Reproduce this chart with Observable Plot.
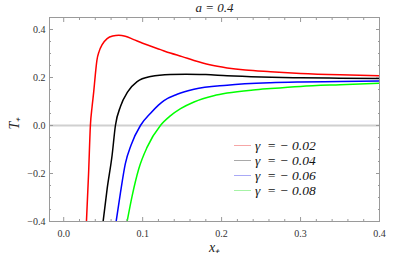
<!DOCTYPE html>
<html><head><meta charset="utf-8">
<script src="https://cdn.jsdelivr.net/npm/d3@7"></script>
<script src="https://cdn.jsdelivr.net/npm/@observablehq/plot@0.6"></script>
<style>
body{margin:0;background:#fff;}
#wrap{position:relative;width:415px;height:260px;}
#legend{position:absolute;left:234px;top:138px;font-family:"Liberation Serif",serif;font-style:italic;font-size:13.5px;color:#111;}
.row{display:flex;align-items:center;height:15px;white-space:pre;}
.sw{width:17px;height:1.3px;margin-right:4px;}
svg text{font-family:"Liberation Serif",serif;}
</style></head><body><div id="wrap"><div id="legend"></div></div>
<script>
const titleText = "a = 0.4";
const xLabel = "x₊";
const yLabel = "T₊";
const seriesNames = ["γ  = − 0.02", "γ  = − 0.04", "γ  = − 0.06", "γ  = − 0.08"];
const lineColors = ["#ff0000", "#000000", "#0000ff", "#00ff00"];
const legendColors = ["#f6a6a6", "#a9a9a9", "#a9a9f6", "#a6f3a6"];

const redX = [0.0288,0.0315,0.0338,0.036,0.038,0.040,0.042,0.045,0.0487,0.055,0.062,0.0697,0.078,0.0887,0.100,0.114,0.1227,0.135,0.150,0.165,0.185,0.207,0.230,0.262,0.300,0.350,0.400];
const redY = [-0.40,-0.20,0.00,0.08,0.14,0.21,0.27,0.31,0.337,0.362,0.373,0.376,0.372,0.358,0.343,0.326,0.316,0.302,0.287,0.271,0.253,0.240,0.231,0.224,0.217,0.211,0.207];

const blackX = [0.0499,0.055,0.0613,0.0655,0.072,0.081,0.093,0.110,0.135,0.155,0.180,0.207,0.250,0.300,0.350,0.400];
const blackY = [-0.40,-0.264,-0.124,0.00,0.08,0.14,0.183,0.204,0.213,0.214,0.212,0.207,0.202,0.199,0.197,0.196];

const blueX = [0.0664,0.0719,0.078,0.0855,0.0972,0.110,0.120,0.127,0.1437,0.165,0.207,0.262,0.300,0.350,0.400];
const blueY = [-0.40,-0.28,-0.16,-0.08,0.00,0.051,0.085,0.104,0.130,0.151,0.168,0.178,0.181,0.183,0.185];

const greenX = [0.0803,0.0867,0.0951,0.1057,0.1225,0.135,0.148,0.165,0.190,0.207,0.240,0.262,0.300,0.350,0.400];
const greenY = [-0.40,-0.293,-0.18,-0.09,0.00,0.040,0.070,0.098,0.124,0.135,0.148,0.154,0.163,0.170,0.176];

const xMajor = [0, 0.1, 0.2, 0.3, 0.4];
const xMinor = [0.02,0.04,0.06,0.08,0.12,0.14,0.16,0.18,0.22,0.24,0.26,0.28,0.32,0.34,0.36,0.38];
const yMajor = [-0.4, -0.2, 0, 0.2, 0.4];
const yMinor = [-0.35,-0.3,-0.25,-0.15,-0.1,-0.05,0.05,0.1,0.15,0.25,0.3,0.35];

const allX = [redX, blackX, blueX, greenX];
const allY = [redY, blackY, blueY, greenY];
const data = [];
allX.forEach((xs, i) => xs.forEach((x, j) => data.push({x, y: allY[i][j], s: seriesNames[i]})));

const fmt = d => (d < 0 ? "−" : "") + d3.format(".1f")(Math.abs(d));
const serif = "'Liberation Serif', serif";
const frameColor = "#9a9a9a";
const tickOpts = {stroke: frameColor, fill: "none", label: null};

const chart = Plot.plot({
  width: 415, height: 260,
  marginLeft: 49, marginRight: 36, marginTop: 17, marginBottom: 39,
  style: {fontFamily: serif, background: "#fff", color: "#333"},
  x: {domain: [-0.018, 0.4]},
  y: {domain: [-0.4, 0.45]},
  color: {domain: seriesNames, range: lineColors},
  marks: [
    Plot.ruleY([0], {stroke: "#d0d0d0", strokeWidth: 2}),
    Plot.line(data, {x: "x", y: "y", z: "s", stroke: "s", strokeWidth: 1.5, curve: "monotone-x", clip: true}),
    Plot.frame({stroke: frameColor}),
    Plot.axisX({anchor: "bottom", ticks: xMajor, tickSize: -4, ...tickOpts}),
    Plot.axisX({anchor: "bottom", ticks: xMinor, tickSize: -2, ...tickOpts}),
    Plot.axisX({anchor: "top", ticks: xMajor, tickSize: -4, ...tickOpts}),
    Plot.axisX({anchor: "top", ticks: xMinor, tickSize: -2, ...tickOpts}),
    Plot.axisY({anchor: "left", ticks: yMajor, tickSize: -4, ...tickOpts}),
    Plot.axisY({anchor: "left", ticks: yMinor, tickSize: -2, ...tickOpts}),
    Plot.axisY({anchor: "right", ticks: yMajor, tickSize: -4, ...tickOpts}),
    Plot.axisY({anchor: "right", ticks: yMinor, tickSize: -2, ...tickOpts}),
    Plot.axisX({anchor: "bottom", ticks: xMajor, tickSize: 0, tickPadding: 8, tickFormat: fmt, fontSize: 10, fill: "#333", label: null}),
    Plot.axisY({anchor: "left", ticks: yMajor, tickSize: 0, tickPadding: 4, tickFormat: fmt, fontSize: 10, fill: "#333", label: null}),
    Plot.text([titleText], {frameAnchor: "top", lineAnchor: "middle", dy: -10, fontSize: 13, fontStyle: "italic", fontFamily: serif, fill: "#222"}),
    Plot.text([xLabel], {frameAnchor: "bottom", lineAnchor: "middle", dy: 26, fontSize: 14, fontStyle: "italic", fontFamily: serif, fill: "#222"}),
    Plot.text([yLabel], {frameAnchor: "left", lineAnchor: "middle", dx: -35, dy: 10, rotate: -90, fontSize: 14, fontStyle: "italic", fontFamily: serif, fill: "#222"})
  ]
});
document.getElementById("wrap").prepend(chart);

const legend = document.getElementById("legend");
seriesNames.forEach((name, i) => {
  const row = document.createElement("div");
  row.className = "row";
  const sw = document.createElement("span");
  sw.className = "sw";
  sw.style.background = legendColors[i];
  const t = document.createElement("span");
  t.textContent = name;
  row.append(sw, t);
  legend.append(row);
});
</script>
</body></html>
